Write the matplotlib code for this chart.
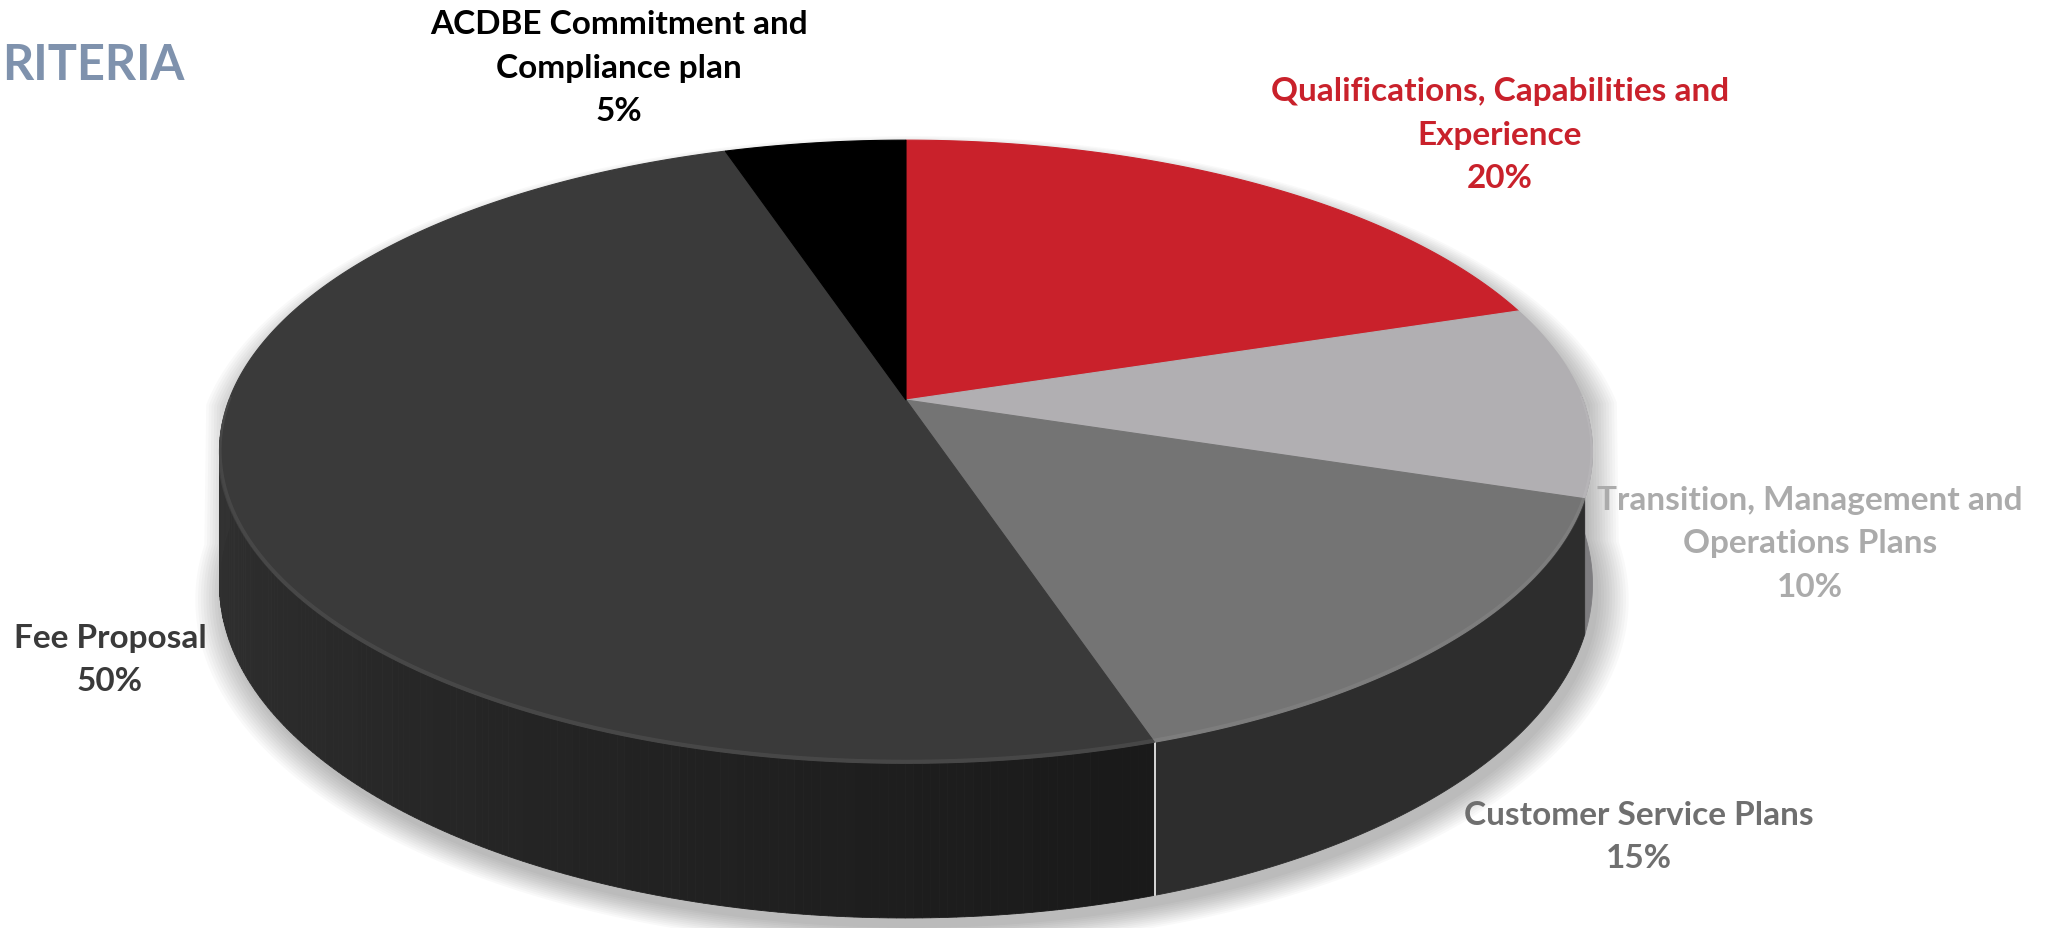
import numpy as np
import matplotlib.pyplot as plt
from matplotlib.patches import Polygon

# slice data, clockwise from 12 o'clock
labels = ["Qualifications, Capabilities and\nExperience",
          "Transition, Management and\nOperations Plans",
          "Customer Service Plans",
          "Fee Proposal",
          "ACDBE Commitment and\nCompliance plan"]
values = [20, 10, 15, 50, 5]
top_colors = ["#C9212B", "#B1AFB2", "#747474", "#3A3A3A", "#000000"]
side_colors = ["#8E161D", "#7E7D80", "#2D2D2D", "#262626", "#000000"]
text_colors = ["#C9212B", "#ABABAB", "#6F6F6F", "#3A3A3A", "#000000"]
label_pos = [(1500, 135), (1810, 544), (1639, 837), (110, 660), (619, 68)]

# geometry of the tilted pie (pixel units)
CX, CY = 906, 401
A, B = 677, 303
K = 0.166
D = 129


def proj(phi, depth=0.0):
    s = 1.0 / (1.0 + K * np.sin(phi))
    x = CX + A * np.cos(phi) * s
    y = CY - B * np.sin(phi) * s + D * s * depth
    return x, y


fig = plt.figure(figsize=(20.49, 9.29), dpi=100)
ax = fig.add_axes([0, 0, 1, 1])
ax.set_xlim(0, 2049)
ax.set_ylim(929, 0)
ax.axis('off')

# soft shadow
full = np.linspace(0, 2 * np.pi, 400)
for i in range(12):
    grow = 1.0 + 0.004 * i
    tx, ty = proj(full, 0.0)
    bx, by = proj(full, 1.0)
    xs = np.where(np.sin(full) > 0, tx, bx)
    ys = np.where(np.sin(full) > 0, ty, by)
    xs = CX + (xs - CX) * grow + 6
    ys = CY + 60 + (ys - CY - 60) * grow + 10
    ax.add_patch(Polygon(np.column_stack([xs, ys]), closed=True,
                         facecolor='black', edgecolor='none', alpha=0.025, zorder=1))

fracs = np.array(values) / np.sum(values)
starts = np.pi / 2 - 2 * np.pi * np.concatenate([[0], np.cumsum(fracs)[:-1]])
ends = starts - 2 * np.pi * fracs

# sides
for i in range(len(values)):
    phis = np.linspace(starts[i], ends[i], 300)
    front = phis[np.sin(phis) <= 0.01]
    if len(front) < 2:
        continue
    if i == 3:
        # gradient along the big slice side
        c0 = np.array([0.20, 0.20, 0.20])
        c1 = np.array([0.10, 0.10, 0.10])
        for j in range(len(front) - 1):
            seg = front[j:j + 2]
            tx, ty = proj(seg, 0.0)
            bx, by = proj(seg[::-1], 1.0)
            t = (seg[0] - front[0]) / (front[-1] - front[0])
            col = c1 * (1 - t) + c0 * t
            ax.add_patch(Polygon(np.column_stack([np.r_[tx, bx], np.r_[ty, by]]), closed=True,
                                 facecolor=col, edgecolor=col, lw=0.6, zorder=2))
    else:
        tx, ty = proj(front, 0.0)
        bx, by = proj(front[::-1], 1.0)
        ax.add_patch(Polygon(np.column_stack([np.r_[tx, bx], np.r_[ty, by]]), closed=True,
                             facecolor=side_colors[i], edgecolor=side_colors[i], lw=0.6, zorder=2))

# small gap between fee proposal and customer service sides
gx, gy = proj(np.array([ends[2], ends[2]]), np.array([0.0, 1.0]))
ax.plot(gx + 1, gy, color='#e6e6e6', lw=1.3, zorder=3)

# tops
for i in range(len(values)):
    phis = np.linspace(starts[i], ends[i], 300)
    tx, ty = proj(phis, 0.0)
    xs = np.r_[CX, tx]
    ys = np.r_[CY, ty]
    ax.add_patch(Polygon(np.column_stack([xs, ys]), closed=True,
                         facecolor=top_colors[i], edgecolor=top_colors[i], lw=0.8, zorder=4))
    # faint bevel along the rim
    front = phis[np.sin(phis) <= 0.01]
    if len(front) > 1:
        rx, ry = proj(front, 0.0)
        ax.plot(rx, ry - 1.5, color='white', alpha=0.07, lw=3, zorder=5, solid_capstyle='butt')

# labels
font = ['Lato', 'DejaVu Sans']
for i in range(len(values)):
    x, y = label_pos[i]
    ax.text(x, y, "%s\n%d%%" % (labels[i], values[i]), ha='center', va='center',
            fontsize=24, fontweight='bold', color=text_colors[i], family=font,
            linespacing=1.6, zorder=6)

ax.text(2, 65, "RITERIA", ha='left', va='center', fontsize=35, fontweight='bold',
        color='#7F92AD', family=font, zorder=6)

fig.savefig('out.png', dpi=100, facecolor='white')
